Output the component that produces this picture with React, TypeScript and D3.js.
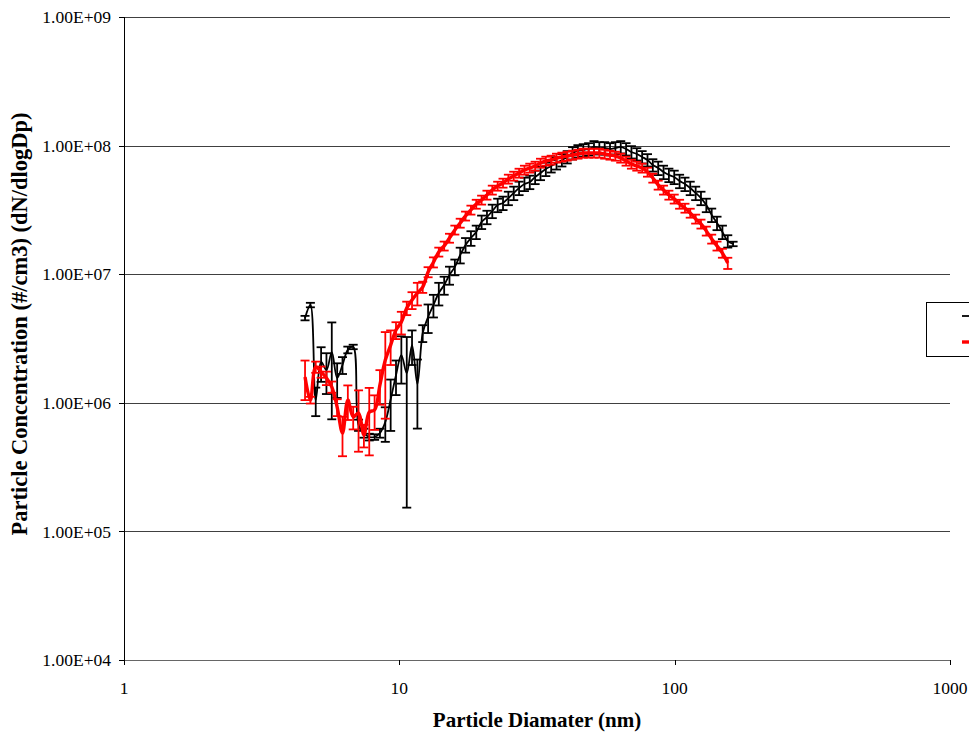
import React from 'react';
import * as d3 from 'd3';

// Mobility diameter channels (nm)
const diameters = [
  4.545, 4.753, 4.970, 5.198, 5.436, 5.684, 5.945, 6.217, 6.501, 6.799,
  7.110, 7.435, 7.776, 8.131, 8.503, 8.893, 9.300, 9.725, 10.17, 10.64,
  11.12, 11.63, 12.16, 12.72, 13.30, 13.91, 14.55, 15.21, 15.91, 16.64,
  17.40, 18.20, 19.03, 19.90, 20.81, 21.76, 22.76, 23.80, 24.89, 26.03,
  27.22, 28.47, 29.77, 31.13, 32.56, 34.05, 35.60, 37.23, 38.94, 40.72,
  42.58, 44.53, 46.57, 48.70, 50.93, 53.26, 55.70, 58.24, 60.91, 63.70,
  66.61, 69.66, 72.85, 76.18, 79.67, 83.31, 87.13, 91.11, 95.28, 99.64,
  104.2, 109.0, 113.9, 119.2, 124.6, 130.3, 136.3, 142.5, 149.1, 155.9,
  163.0,
];

// Series 1 (black): dN/dlogDp, #/cm3
const blackValues = [
  4.56e6, 5.76e6, 1.05e6, 2.08e6, 1.80e6, 2.48e6, 1.56e6, 1.97e6, 2.58e6, 2.72e6,
  6.72e5, 5.82e5, 5.42e5, 5.42e5, 5.82e5, 7.10e5, 1.06e6, 1.64e6, 2.35e6, 1.70e6,
  2.81e6, 1.40e6, 3.49e6, 4.65e6, 5.76e6, 7.14e6, 8.24e6, 9.86e6, 1.14e7, 1.41e7,
  1.69e7, 1.91e7, 2.13e7, 2.55e7, 2.78e7, 3.10e7, 3.45e7, 3.58e7, 3.91e7, 4.28e7,
  4.68e7, 5.03e7, 5.21e7, 5.70e7, 6.12e7, 6.58e7, 6.94e7, 7.32e7, 7.73e7, 8.16e7,
  8.76e7, 9.08e7, 9.24e7, 9.41e7, 9.76e7, 9.58e7, 9.58e7, 9.41e7, 9.58e7, 9.76e7,
  9.41e7, 8.92e7, 8.60e7, 8.16e7, 7.73e7, 7.06e7, 6.70e7, 6.23e7, 5.91e7, 5.70e7,
  5.30e7, 5.03e7, 4.68e7, 4.28e7, 3.91e7, 3.45e7, 2.89e7, 2.50e7, 2.13e7, 1.81e7,
  1.72e7,
];
// Relative standard deviation for series 1
const blackErrors = [
  0.04, 0.04, 0.25, 0.30, 0.35, 0.70, 0.30, 0.15, 0.06, 0.04,
  0.10, 0.08, 0.06, 0.05, 0.08, 0.30, 0.43, 0.30, 0.40, 0.91,
  0.30, 0.55, 0.15, 0.25, 0.20, 0.20, 0.16, 0.16, 0.14, 0.14,
  0.13, 0.13, 0.12, 0.12, 0.12, 0.12, 0.12, 0.12, 0.12, 0.12,
  0.12, 0.12, 0.12, 0.12, 0.12, 0.12, 0.11, 0.11, 0.11, 0.11,
  0.11, 0.11, 0.11, 0.11, 0.11, 0.11, 0.11, 0.11, 0.11, 0.11,
  0.11, 0.11, 0.11, 0.11, 0.11, 0.11, 0.12, 0.12, 0.12, 0.12,
  0.12, 0.12, 0.12, 0.12, 0.12, 0.12, 0.12, 0.12, 0.12, 0.11,
  0.04,
];

// Series 2 (red): dN/dlogDp, #/cm3
const redValues = [
  1.59e6, 1.05e6, 1.90e6, 1.74e6, 1.56e6, 1.33e6, 9.27e5, 5.82e5, 1.05e6, 7.76e5,
  8.33e5, 5.62e5, 8.48e5, 8.79e5, 1.38e6, 2.15e6, 2.81e6, 3.68e6, 4.25e6, 5.46e6,
  6.30e6, 7.14e6, 7.95e6, 1.04e7, 1.24e7, 1.49e7, 1.66e7, 1.91e7, 2.21e7, 2.50e7,
  2.84e7, 3.16e7, 3.51e7, 3.78e7, 4.13e7, 4.52e7, 4.85e7, 5.12e7, 5.50e7, 5.80e7,
  6.12e7, 6.46e7, 6.70e7, 6.94e7, 7.32e7, 7.59e7, 7.73e7, 8.01e7, 8.16e7, 8.30e7,
  8.45e7, 8.60e7, 8.76e7, 8.76e7, 8.76e7, 8.76e7, 8.60e7, 8.45e7, 8.30e7, 8.01e7,
  7.59e7, 7.19e7, 6.94e7, 6.70e7, 6.23e7, 5.60e7, 4.94e7, 4.52e7, 4.13e7, 3.85e7,
  3.51e7, 3.27e7, 2.99e7, 2.69e7, 2.46e7, 2.17e7, 1.88e7, 1.66e7, 1.46e7, 1.22e7,
];
// Relative standard deviation for series 2
const redErrors = [
  0.34, 0.06, 0.10, 0.10, 0.12, 0.10, 0.15, 0.34, 0.30, 0.20,
  0.50, 0.20, 0.54, 0.30, 0.30, 0.65, 0.30, 0.15, 0.20, 0.12,
  0.15, 0.20, 0.10, 0.09, 0.09, 0.08, 0.08, 0.08, 0.08, 0.08,
  0.08, 0.08, 0.08, 0.08, 0.08, 0.08, 0.08, 0.08, 0.08, 0.08,
  0.08, 0.08, 0.08, 0.08, 0.08, 0.08, 0.08, 0.08, 0.08, 0.08,
  0.08, 0.08, 0.08, 0.08, 0.08, 0.08, 0.08, 0.08, 0.08, 0.08,
  0.08, 0.08, 0.08, 0.08, 0.08, 0.08, 0.08, 0.08, 0.08, 0.08,
  0.08, 0.08, 0.08, 0.08, 0.08, 0.08, 0.08, 0.08, 0.08, 0.10,
];

const yTicks = [1e4, 1e5, 1e6, 1e7, 1e8, 1e9];
const yTickLabels = ['1.00E+04', '1.00E+05', '1.00E+06', '1.00E+07', '1.00E+08', '1.00E+09'];
const xTicks = [1, 10, 100, 1000];
const xTickLabels = ['1', '10', '100', '1000'];

const W = 969;
const H = 734;
const plot = { left: 124, right: 950, top: 17, bottom: 660 };
const serif = '"Liberation Serif", "Times New Roman", serif';

type Pt = { d: number; v: number; e: number };

function buildSeries(vals: number[], errs: number[]): Pt[] {
  return vals.map((v, i) => ({ d: diameters[i], v, e: v * errs[i] }));
}

export default function App() {
  const x = d3.scaleLog().domain([1, 1000]).range([plot.left, plot.right]);
  const y = d3.scaleLog().domain([1e4, 1e9]).range([plot.bottom, plot.top]);
  const yMinVal = 1e4;

  const line = d3
    .line<Pt>()
    .x((p) => x(p.d))
    .y((p) => y(p.v))
    .curve(d3.curveCatmullRom.alpha(0.5));

  const series = [
    { key: 'black', color: '#000000', width: 1.8, barWidth: 1.8, data: buildSeries(blackValues, blackErrors) },
    { key: 'red', color: '#ff0000', width: 3.4, barWidth: 1.8, data: buildSeries(redValues, redErrors) },
  ];

  const cap = 4.5;

  return (
    <svg
      width={W}
      height={H}
      viewBox={`0 0 ${W} ${H}`}
      style={{ position: 'absolute', left: 0, top: 0, display: 'block', background: '#fff' }}
    >
      <rect x={0} y={0} width={W} height={H} fill="#fff" />

      {/* horizontal gridlines */}
      {yTicks.map((t) => (
        <line
          key={`g${t}`}
          x1={plot.left}
          x2={plot.right}
          y1={Math.round(y(t)) + 0.5}
          y2={Math.round(y(t)) + 0.5}
          stroke="#000"
          strokeWidth={1}
          strokeOpacity={t === 1e4 ? 0.6 : 0.75}
        />
      ))}

      {/* y axis */}
      <line x1={plot.left + 0.5} x2={plot.left + 0.5} y1={plot.top} y2={plot.bottom + 5} stroke="#000" />
      {yTicks.map((t, i) => (
        <g key={`yt${t}`}>
          <line
            x1={plot.left - 5}
            x2={plot.left}
            y1={Math.round(y(t)) + 0.5}
            y2={Math.round(y(t)) + 0.5}
            stroke="#000"
          />
          <text
            x={plot.left - 13}
            y={y(t)}
            dy="0.35em"
            textAnchor="end"
            fontFamily={serif}
            fontSize={17.5}
            fill="#000"
          >
            {yTickLabels[i]}
          </text>
        </g>
      ))}

      {/* x axis ticks */}
      {xTicks.map((t, i) => (
        <g key={`xt${t}`}>
          <line
            x1={Math.round(x(t)) + 0.5}
            x2={Math.round(x(t)) + 0.5}
            y1={plot.bottom}
            y2={plot.bottom + 5}
            stroke="#000"
          />
          <text
            x={x(t)}
            y={plot.bottom + 34}
            textAnchor="middle"
            fontFamily={serif}
            fontSize={17.5}
            fill="#000"
          >
            {xTickLabels[i]}
          </text>
        </g>
      ))}

      {/* series: error bars, then line */}
      {series.map((s) => (
        <g key={s.key}>
          {s.data.map((p, i) => {
            const cx = x(p.d);
            const hi = y(p.v + p.e);
            const lo = y(Math.max(p.v - p.e, yMinVal));
            return (
              <g key={i} stroke={s.color} strokeWidth={s.barWidth}>
                <line x1={cx} x2={cx} y1={hi} y2={lo} />
                <line x1={cx - cap} x2={cx + cap} y1={hi} y2={hi} />
                <line x1={cx - cap} x2={cx + cap} y1={lo} y2={lo} />
              </g>
            );
          })}
          <path d={line(s.data) || ''} fill="none" stroke={s.color} strokeWidth={s.width} strokeLinejoin="round" />
        </g>
      ))}

      {/* axis titles */}
      <text
        x={537}
        y={727}
        textAnchor="middle"
        fontFamily={serif}
        fontWeight="bold"
        fontSize={21}
        fill="#000"
      >
        Particle Diamater (nm)
      </text>
      <text
        transform={`translate(27, 324) rotate(-90)`}
        textAnchor="middle"
        fontFamily={serif}
        fontWeight="bold"
        fontSize={22.5}
        fill="#000"
      >
        Particle Concentration (#/cm3) (dN/dlogDp)
      </text>

      {/* legend */}
      <g>
        <rect x={926.5} y={302.5} width={120} height={54} fill="#fff" stroke="#000" strokeWidth={1} />
        <line x1={962} x2={990} y1={316} y2={316} stroke="#000" strokeWidth={1.8} />
        <line x1={962} x2={990} y1={342} y2={342} stroke="#ff0000" strokeWidth={3.4} />
      </g>
    </svg>
  );
}
